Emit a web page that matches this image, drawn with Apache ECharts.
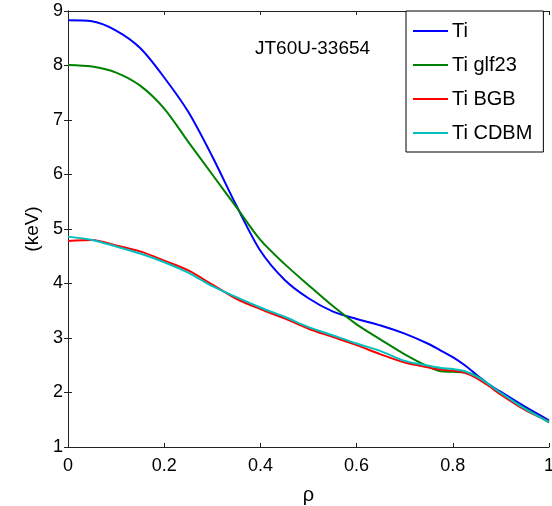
<!DOCTYPE html>
<html>
<head>
<meta charset="utf-8">
<script src="https://cdn.jsdelivr.net/npm/echarts@6/dist/echarts.min.js"></script>
<style>
  html, body { margin: 0; padding: 0; background: #fff; }
  #chart { width: 552px; height: 506px; }
</style>
</head>
<body>
<div id="chart"></div>
<script>
// rho grid and ion temperature profiles (keV)
var rho = [0, 0.05, 0.1, 0.15, 0.2, 0.25, 0.3, 0.35, 0.4, 0.45, 0.5,
           0.55, 0.6, 0.65, 0.7, 0.75, 0.775, 0.8, 0.825, 0.85, 0.875, 0.9, 0.95, 1.0];
var tiExp = [8.83, 8.81, 8.64, 8.32, 7.78, 7.15, 6.33, 5.43, 4.6, 4.07, 3.73,
             3.49, 3.35, 3.23, 3.08, 2.89, 2.77, 2.65, 2.5, 2.32, 2.15, 2.01, 1.74, 1.49];
var tiGlf23 = [8.01, 7.98, 7.87, 7.63, 7.21, 6.6, 6.0, 5.4, 4.8, 4.36, 3.97,
               3.59, 3.25, 2.97, 2.7, 2.47, 2.39, 2.38, 2.37, 2.3, 2.14, 1.98, 1.71, 1.45];
var tiBgb = [4.78, 4.8, 4.7, 4.59, 4.42, 4.24, 3.98, 3.72, 3.53, 3.36, 3.17,
             3.02, 2.87, 2.7, 2.55, 2.46, 2.42, 2.4, 2.36, 2.26, 2.12, 1.96, 1.68, 1.47];
var tiCdbm = [4.86, 4.8, 4.68, 4.55, 4.39, 4.2, 3.95, 3.75, 3.56, 3.39, 3.2,
              3.05, 2.9, 2.76, 2.58, 2.49, 2.45, 2.43, 2.39, 2.29, 2.15, 1.99, 1.7, 1.46];
var names = ['Ti', 'Ti glf23', 'Ti BGB', 'Ti CDBM'];
var colors = ['#0000ff', '#008000', '#ff0000', '#00bfbf'];

function pairs(vals) {
    return rho.map(function (r, i) { return [r, vals[i]]; });
}

var font = '"Liberation Sans", Arial, sans-serif';
var myChart = echarts.init(document.getElementById('chart'));

var series = [tiExp, tiGlf23, tiBgb, tiCdbm].map(function (vals, i) {
    return {
        name: names[i],
        type: 'line',
        data: pairs(vals),
        showSymbol: false,
        smooth: 0.3,
        lineStyle: {width: 2, color: colors[i]},
        itemStyle: {color: colors[i]}
    };
});

var option = {
    animation: false,
    grid: {left: 68, top: 11, right: 3, bottom: 59, outerBoundsMode: 'none', containLabel: false},
    legend: {
        data: names,
        orient: 'vertical',
        left: 406,
        top: 11,
        padding: [10, 11, 9, 7],
        itemGap: 14,
        itemWidth: 35,
        itemHeight: 2,
        icon: 'rect',
        backgroundColor: '#fff',
        borderColor: '#000',
        borderWidth: 1,
        borderRadius: 0,
        textStyle: {fontFamily: font, fontSize: 20, color: '#000', padding: [0, 0, 0, -1]}
    },
    graphic: [{
        type: 'text',
        left: 255,
        top: 39,
        style: {text: 'JT60U-33654', font: '19px ' + font, fill: '#000'}
    }],
    xAxis: [{
        type: 'value',
        min: 0, max: 1, interval: 0.2,
        name: 'ρ',
        nameLocation: 'middle',
        nameGap: 38,
        nameTextStyle: {fontFamily: font, fontSize: 20, color: '#000'},
        axisLine: {show: true, lineStyle: {color: '#222', width: 1}},
        axisTick: {show: true, inside: true, length: 4, lineStyle: {color: '#222'}},
        axisLabel: {fontFamily: font, fontSize: 18, color: '#000', margin: 10},
        splitLine: {show: false}
    }, {
        type: 'value',
        position: 'top',
        min: 0, max: 1, interval: 0.2,
        axisLine: {show: true, lineStyle: {color: '#222', width: 1}},
        axisTick: {show: true, inside: true, length: 4, lineStyle: {color: '#222'}},
        axisLabel: {show: false},
        splitLine: {show: false}
    }],
    yAxis: [{
        type: 'value',
        min: 1, max: 9, interval: 1,
        name: '(keV)',
        nameLocation: 'middle',
        nameRotate: 90,
        nameGap: 24,
        nameTextStyle: {fontFamily: font, fontSize: 19, color: '#000'},
        axisLine: {show: true, lineStyle: {color: '#222', width: 1}},
        axisTick: {show: true, inside: true, length: 4, lineStyle: {color: '#222'}},
        axisLabel: {fontFamily: font, fontSize: 18, color: '#000', margin: 5},
        splitLine: {show: false}
    }, {
        type: 'value',
        position: 'right',
        min: 1, max: 9, interval: 1,
        axisLine: {show: true, lineStyle: {color: '#222', width: 1}},
        axisTick: {show: true, inside: true, length: 4, lineStyle: {color: '#222'}},
        axisLabel: {show: false},
        splitLine: {show: false}
    }],
    series: series
};

myChart.setOption(option);
</script>
</body>
</html>
